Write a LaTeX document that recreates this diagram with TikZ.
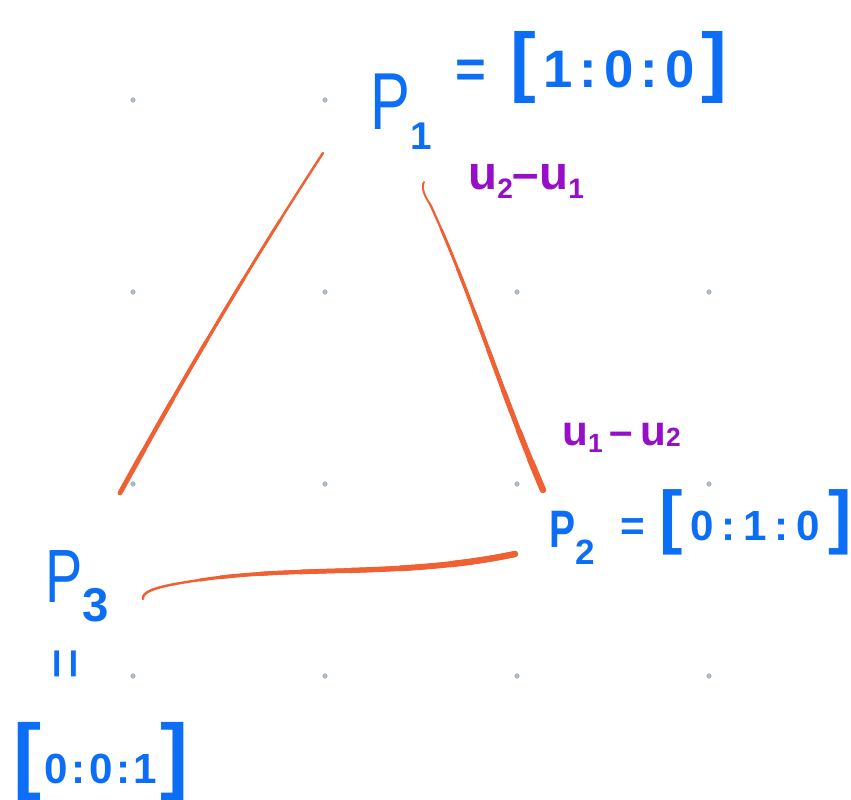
\documentclass[tikz,border=0pt]{standalone}
\usepackage{fontspec}
\setmainfont{Liberation Sans}
\usetikzlibrary{positioning}
\definecolor{inkblue}{RGB}{12, 110, 245}
\definecolor{inkpurple}{RGB}{150, 14, 200}
\definecolor{inkorange}{RGB}{240, 96, 50}
\definecolor{dotgray}{RGB}{170, 182, 200}
\newcommand{\fs}[1]{\fontsize{#1}{#1}\selectfont}
\newcommand{\lowsub}[3]{\raisebox{-#2}{\fs{#1}\bfseries#3}}
\newcommand{\nP}{\scalebox{0.74}[1]{P}}
\newcommand{\bigbr}[2]{{\fs{#1}#2}}

\begin{document}
\begin{tikzpicture}[
    x=0.02cm, y=-0.02cm,
    lbl/.style={text=inkblue, inner sep=0pt, anchor=base west},
    diff/.style={text=inkpurple, inner sep=0pt, anchor=base west, font=\bfseries\fs{#1}},
    side/.style={draw=inkorange, line cap=round, line join=round, line width=#1}
]
\useasboundingbox (0,0) rectangle (851,800);

% Grid dots
\foreach \gx in {133,325,517,709}
  \foreach \gy in {100,292,484,676}
    \fill[dotgray] (\gx,\gy) circle (1.5pt);

% Points
\node[lbl, font=\fs{46}] (p1) at (370,130) {\nP\lowsub{22}{11pt}{1}};
\node[lbl, font=\bfseries\fs{30}] (p1eq) at (455,88) {=\hspace{14pt}\bigbr{44}{[}\hspace{4pt}1\hspace{4pt}:\hspace{4pt}0\hspace{4pt}:\hspace{4pt}0\hspace{4pt}\bigbr{44}{]}};

\node[lbl, font=\bfseries\fs{30}] (p2) at (549,547) {\nP\lowsub{20}{10pt}{2}};
\node[lbl, font=\bfseries\fs{24}] (p2eq) at (620,540) {=\hspace{8pt}\bigbr{40}{[}\hspace{4.5pt}0\hspace{4.5pt}:\hspace{4.5pt}1\hspace{4.5pt}:\hspace{4.5pt}0\hspace{4.5pt}\bigbr{40}{]}};

\node[lbl, font=\fs{43}] (p3) at (45,602) {\nP\lowsub{27}{11pt}{3}};
\node[text=inkblue, font=\fs{38}, rotate=90, inner sep=0pt] (p3eq) at (71,664) {\scalebox{0.8}[1]{=}};
\node[lbl, font=\bfseries\fs{24}] (p3pt) at (13,783) {\bigbr{48}{[}\hspace{2pt}0\hspace{2pt}:\hspace{2pt}0\hspace{2pt}:\hspace{2pt}1\hspace{2pt}\bigbr{48}{]}};

% Differences
\node[diff=27] (d21) at (468,190) {u\lowsub{16}{5pt}{2}–u\lowsub{16}{5pt}{1}};
\node[diff=24] (d12) at (562,445) {u\lowsub{15}{4pt}{1}\hspace{4pt}–\hspace{4pt}u\lowsub{15}{1pt}{2}};

% Sides
\coordinate (s13a) at (323,153);
\coordinate (s13b) at (120,493);
\coordinate (s12a) at (424,182);
\coordinate (s12m) at (430,204);
\coordinate (s12b) at (543,490);
\coordinate (s23a) at (143,599);
\coordinate (s23m) at (200,580);
\coordinate (s23b) at (515,554);

% P1 -- P3, thicker towards P3
\draw[side=1.4pt] (s13a) .. controls (250,265) and (185,375) .. (s13b);
\foreach \cy/\w in {220/1.6pt, 280/1.8pt, 340/2.1pt, 400/2.4pt, 450/2.7pt} {
  \begin{scope}
    \clip (0,\cy) rectangle (851,800);
    \draw[side=\w] (s13a) .. controls (250,265) and (185,375) .. (s13b);
  \end{scope}
}

% P1 -- P2, thicker towards P2
\draw[side=1.1pt] (s12a) .. controls (421,186) and (424,196) .. (s12m);
\draw[side=1.3pt] (s12m) .. controls (470,290) and (500,390) .. (s12b);
\foreach \cy/\w in {230/1.6pt, 270/1.9pt, 310/2.2pt, 350/2.5pt, 390/2.8pt, 430/3.2pt, 460/3.6pt} {
  \begin{scope}
    \clip (0,\cy) rectangle (851,800);
    \draw[side=\w] (s12m) .. controls (470,290) and (500,390) .. (s12b);
  \end{scope}
}

% P3 -- P2, thicker towards P2
\draw[side=1.4pt] (s23a) .. controls (141,590) and (165,585) .. (s23m);
\draw[side=1.8pt] (s23m) .. controls (300,565) and (400,578) .. (s23b);
\foreach \cx/\w in {220/2.1pt, 260/2.4pt, 300/2.7pt, 350/3pt, 400/3.3pt, 450/3.6pt} {
  \begin{scope}
    \clip (\cx,0) rectangle (851,800);
    \draw[side=\w] (s23m) .. controls (300,565) and (400,578) .. (s23b);
  \end{scope}
}

\end{tikzpicture}
\end{document}
